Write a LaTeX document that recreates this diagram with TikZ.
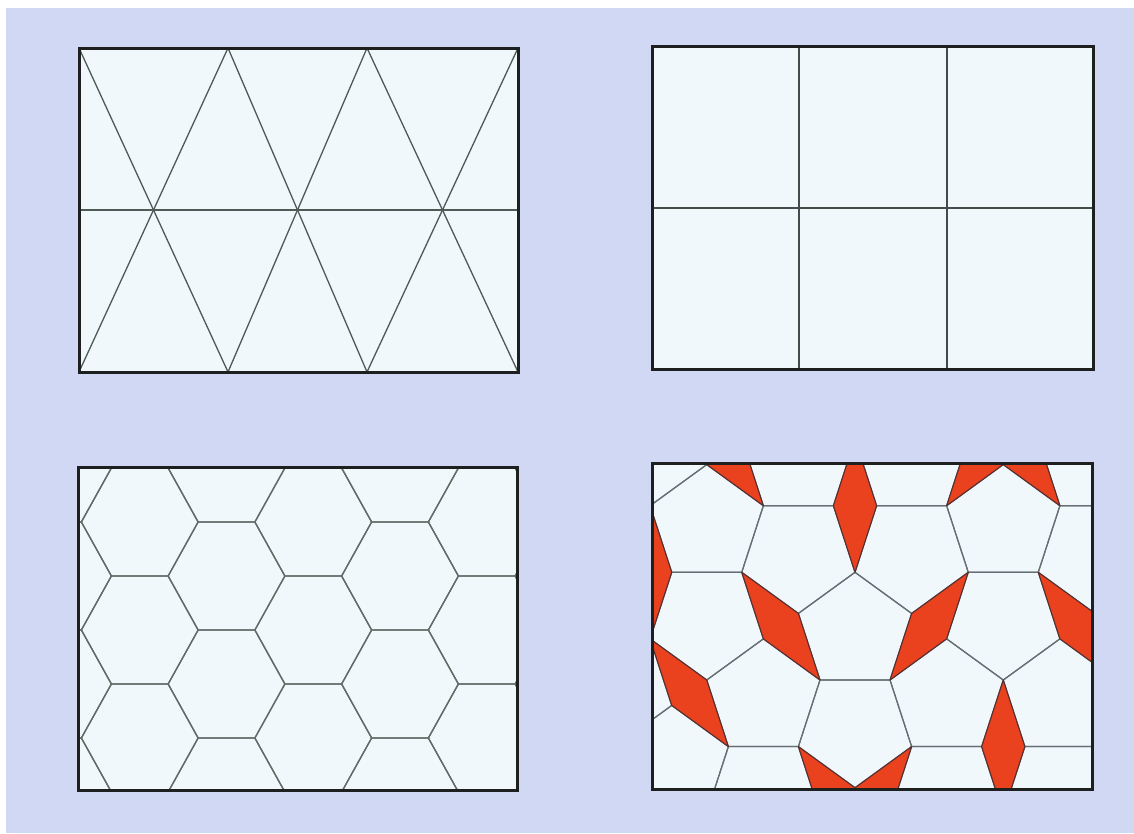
\documentclass[tikz,border=0pt]{standalone}
\usepackage{xcolor}
\definecolor{bgc}{RGB}{208,216,243}
\definecolor{panelc}{RGB}{241,248,251}
\definecolor{framec}{RGB}{30,32,32}
\definecolor{linec}{RGB}{78,90,86}
\definecolor{hexc}{RGB}{96,108,104}
\definecolor{pentc}{RGB}{100,112,115}
\definecolor{redc}{RGB}{234,66,30}
\newcommand{\pentup}[2]{\draw[pline] (#1-35,#2) -- (#1+35,#2) -- (#1+56.63,#2-66.57) -- (#1,#2-107.72) -- (#1-56.63,#2-66.57) -- cycle;}
\newcommand{\pentdn}[2]{\draw[pline] (#1-35,#2) -- (#1+35,#2) -- (#1+56.63,#2+66.57) -- (#1,#2+107.72) -- (#1-56.63,#2+66.57) -- cycle;}
\newcommand{\pentpair}[2]{\pentup{#1}{#2}\pentdn{#1}{#2}}
\newcommand{\rhomb}[4]{\filldraw[rhombst] #1 -- #2 -- #3 -- #4 -- cycle;}
\begin{document}
\begin{tikzpicture}[x=1pt,y=-1pt,
  frame/.style={draw=framec,line width=3pt,line join=miter},
  triline/.style={draw=linec,line width=1.3pt},
  recline/.style={draw=linec!85!black,line width=1.8pt},
  hexline/.style={draw=hexc,line width=1.3pt,line join=round},
  pline/.style={draw=pentc,line width=1.2pt,line join=round},
  rhombst/.style={fill=redc,draw=pentc!70!red!60!black,line width=1.1pt,line join=round}]
\useasboundingbox (0,0) rectangle (1134,833);
\fill[bgc] (0,0) rectangle (1134,833);
\fill[white] (0,0) rectangle (1134,8);
\fill[white] (0,0) rectangle (6,833);

% ---------- panel 1 : triangles ----------
\fill[panelc] (79,48) rectangle (518,372);
\begin{scope}
\clip (79,48) rectangle (518,372);
\draw[triline] (79,210) -- (518,210);
\draw[triline] (79,48) -- (228,372);
\draw[triline] (228,48) -- (79,372);
\draw[triline] (228,48) -- (367,372);
\draw[triline] (367,48) -- (228,372);
\draw[triline] (367,48) -- (518,372);
\draw[triline] (518,48) -- (367,372);
\end{scope}
\draw[frame] (79,48) rectangle (518,372);

% ---------- panel 2 : rectangles ----------
\fill[panelc] (652,46) rectangle (1093,369);
\draw[recline] (652,208) -- (1093,208);
\draw[recline] (799,46) -- (799,369);
\draw[recline] (947,46) -- (947,369);
\draw[frame] (652,46) rectangle (1093,369);

% ---------- panel 3 : hexagons ----------
\fill[panelc] (78,467) rectangle (517,790);
\begin{scope}
\clip (78,467) rectangle (517,790);
\foreach \j in {-2,...,4}{
  \foreach \m in {-3,...,3}{
    \pgfmathsetmacro\cx{226.5+86.75*\j}
    \pgfmathsetmacro\cy{576+54*\j+108*\m}
    \draw[hexline] (\cx-28.375,\cy-54) -- (\cx+28.375,\cy-54) -- (\cx+58.375,\cy) -- (\cx+28.375,\cy+54) -- (\cx-28.375,\cy+54) -- (\cx-58.375,\cy) -- cycle;
  }}
\end{scope}
\draw[frame] (78,467) rectangle (517,790);

% ---------- panel 4 : pentagons and rhombi ----------
\fill[panelc] (652,463) rectangle (1092,789);
\begin{scope}
\clip (652,463) rectangle (1092,789);
\pentpair{855}{680}
\pentpair{706.74}{572.29}
\pentpair{1003.26}{572.29}
\pentpair{798.37}{505.72}
\pentpair{911.63}{505.72}
\pentpair{1094.89}{505.72}
\pentpair{763.37}{746.57}
\pentpair{946.63}{746.57}
\pentpair{1059.89}{746.57}
\pentup{671.74}{813.15}
\pentdn{650.11}{398}
\draw[pline] (671.74,705.43) -- (615.11,746.58) -- (558.48,705.43) -- (580.11,638.85) -- (650.11,638.85) -- cycle;
\rhomb{(855,572.29)}{(876.63,505.72)}{(855,439.15)}{(833.37,505.72)}
\rhomb{(763.37,505.72)}{(706.74,464.58)}{(685.11,398)}{(741.74,439.15)}
\rhomb{(946.63,505.72)}{(1003.26,464.58)}{(1024.89,398)}{(968.26,439.15)}
\rhomb{(1059.89,505.72)}{(1003.26,464.58)}{(981.63,398)}{(1038.26,439.15)}
\rhomb{(671.74,572.29)}{(650.11,505.72)}{(628.48,572.29)}{(650.11,638.86)}
\rhomb{(820,680)}{(798.37,613.43)}{(741.74,572.29)}{(763.37,638.86)}
\rhomb{(890,680)}{(911.63,613.43)}{(968.26,572.29)}{(946.63,638.86)}
\rhomb{(1038.26,572.29)}{(1094.89,613.43)}{(1116.52,680)}{(1059.89,638.86)}
\rhomb{(706.74,680)}{(650.11,638.86)}{(671.74,705.43)}{(728.37,746.57)}
\rhomb{(1003.26,680)}{(1024.89,746.57)}{(1003.26,813.14)}{(981.63,746.57)}
\rhomb{(798.37,746.57)}{(855,787.71)}{(876.63,854.28)}{(820,813.14)}
\rhomb{(911.63,746.57)}{(855,787.71)}{(833.37,854.28)}{(890,813.14)}
\end{scope}
\draw[frame] (652,463) rectangle (1092,789);
\end{tikzpicture}
\end{document}
